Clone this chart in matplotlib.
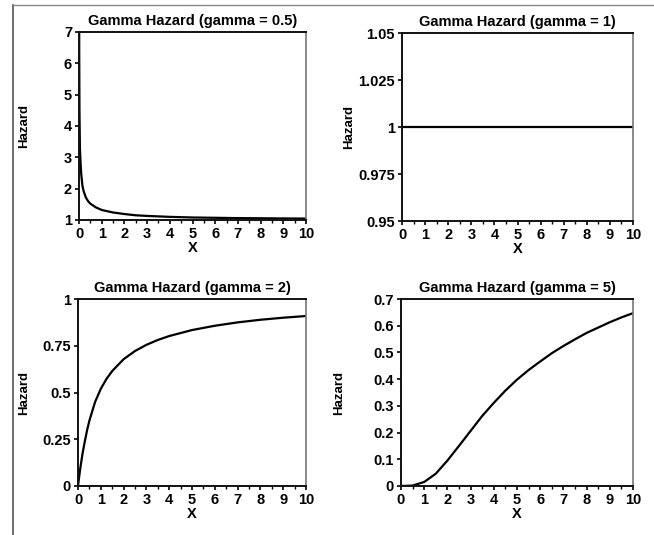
import matplotlib
matplotlib.use('Agg')
import matplotlib.pyplot as plt
from matplotlib.lines import Line2D
from matplotlib.ticker import MultipleLocator

plt.rcParams['font.family'] = ['Liberation Sans Narrow', 'Liberation Sans', 'DejaVu Sans']
plt.rcParams['font.weight'] = 'bold'

# gamma = 0.5
x_g05 = [0.004, 0.01, 0.02, 0.04, 0.07, 0.1, 0.15, 0.2, 0.3, 0.4, 0.5, 0.75, 1, 1.5, 2, 2.5, 3, 4, 5, 6, 7, 8, 9, 10]
h_g05 = [9.0, 6.3, 4.5, 3.3, 2.8, 2.45, 2.1, 1.93, 1.72, 1.6, 1.52, 1.4, 1.32, 1.24, 1.19, 1.15, 1.13, 1.1, 1.08, 1.07, 1.06, 1.055, 1.05, 1.045]

# gamma = 1
x_g1 = [0, 10]
h_g1 = [1, 1]

# gamma = 2
x_g2 = [0, 0.05, 0.1, 0.2, 0.3, 0.4, 0.5, 0.75, 1, 1.25, 1.5, 2, 2.5, 3, 3.5, 4, 5, 6, 7, 8, 9, 10]
h_g2 = [0, 0.05, 0.095, 0.175, 0.24, 0.3, 0.35, 0.45, 0.52, 0.573, 0.615, 0.678, 0.722, 0.755, 0.781, 0.802, 0.834, 0.857, 0.875, 0.889, 0.9, 0.909]

# gamma = 5
x_g5 = [0, 0.5, 1, 1.5, 2, 2.5, 3, 3.5, 4, 4.5, 5, 5.5, 6, 6.5, 7, 7.5, 8, 8.5, 9, 9.5, 10]
h_g5 = [0, 0.0016, 0.015, 0.046, 0.095, 0.15, 0.206, 0.262, 0.311, 0.357, 0.398, 0.434, 0.466, 0.497, 0.524, 0.549, 0.573, 0.593, 0.613, 0.631, 0.647]

panels = [
    ('Gamma Hazard (gamma = 0.5)', x_g05, h_g05, (1, 7), [1, 2, 3, 4, 5, 6, 7], ['1', '2', '3', '4', '5', '6', '7']),
    ('Gamma Hazard (gamma = 1)', x_g1, h_g1, (0.95, 1.05), [0.95, 0.975, 1, 1.025, 1.05], ['0.95', '0.975', '1', '1.025', '1.05']),
    ('Gamma Hazard (gamma = 2)', x_g2, h_g2, (0, 1), [0, 0.25, 0.5, 0.75, 1], ['0', '0.25', '0.5', '0.75', '1']),
    ('Gamma Hazard (gamma = 5)', x_g5, h_g5, (0, 0.7), [0, 0.1, 0.2, 0.3, 0.4, 0.5, 0.6, 0.7], ['0', '0.1', '0.2', '0.3', '0.4', '0.5', '0.6', '0.7']),
]

positions = [
    [0.1208, 0.5888, 0.3471, 0.3514],
    [0.6147, 0.5869, 0.3532, 0.3514],
    [0.1193, 0.0916, 0.3486, 0.3495],
    [0.6131, 0.0916, 0.3547, 0.3495],
]
ylabel_x = [-0.216, -0.203, -0.21, -0.241]

fig = plt.figure(figsize=(6.54, 5.35), dpi=100)

# scanned page frame
fig.add_artist(Line2D([0.02, 0.02], [0, 0.99], color='#555555', lw=1.2))
fig.add_artist(Line2D([0.02, 1.0], [0.99, 0.99], color='#888888', lw=1.0))

for (title, xs, ys, ylim, yticks, ylabels), pos, lx in zip(panels, positions, ylabel_x):
    ax = fig.add_axes(pos)
    ax.plot(xs, ys, color='black', lw=1.6)
    ax.set_xlim(0, 10)
    ax.set_ylim(*ylim)
    ax.set_xticks(range(0, 11))
    ax.xaxis.set_minor_locator(MultipleLocator(0.5))
    ax.set_yticks(yticks)
    ax.set_yticklabels(ylabels)
    ax.tick_params(axis='both', which='major', direction='out', length=3, width=1.2,
                   labelsize=10.5, pad=2)
    ax.tick_params(axis='x', which='minor', direction='out', length=2, width=1)
    for lab in ax.get_xticklabels() + ax.get_yticklabels():
        lab.set_fontweight('bold')
    for side in ['top', 'left', 'bottom']:
        ax.spines[side].set_linewidth(1.4)
        ax.spines[side].set_color('#111111')
    ax.spines['right'].set_linewidth(1.2)
    ax.spines['right'].set_color('#777777')
    ax.set_title(title, fontsize=10.5, fontweight='bold', pad=5)
    ax.set_xlabel('X', fontsize=10.5, fontweight='bold', labelpad=0)
    ax.set_ylabel('Hazard', fontsize=9.5, fontweight='bold')
    ax.yaxis.set_label_coords(lx, 0.5)

fig.savefig('out.png', dpi=100)
